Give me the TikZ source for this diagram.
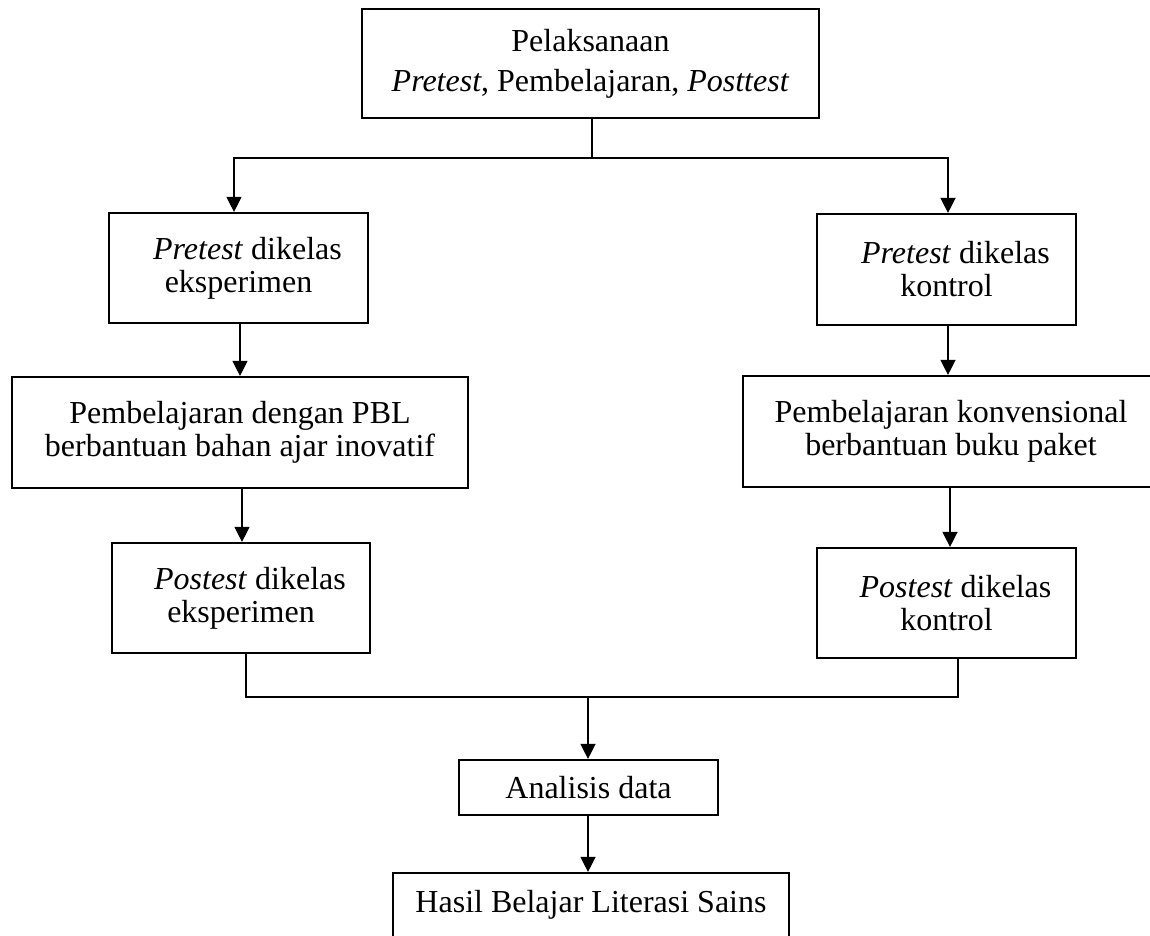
\documentclass[tikz,border=0pt]{standalone}
\usepackage{fontspec}
\setmainfont{Liberation Serif}
\usetikzlibrary{arrows.meta}
\begin{document}
\begin{tikzpicture}[x=1pt,y=-1pt,
  box/.style={draw, line width=2.2pt, inner sep=0pt, align=center,
    font=\fontsize{32}{33}\selectfont},
  arr/.style={line width=1.3pt, -{Triangle[width=15pt,length=15pt]}},
  conn/.style={line width=1.3pt}]
\useasboundingbox[fill=white] (0,0) rectangle (1150,935);
\node[box, minimum width=457pt, minimum height=109pt, font=\fontsize{32}{40}\selectfont] (top) at (590.5,63.5)
  {Pelaksanaan\\ \textit{Pretest}, Pembelajaran, \textit{Posttest}};
\node[box, minimum width=259pt, minimum height=110pt] (L1) at (238.5,268)
  {\hspace*{18pt}\textit{Pretest} dikelas\\ eksperimen};
\node[box, minimum width=259pt, minimum height=111pt] (R1) at (946.5,269.5)
  {\hspace*{18pt}\textit{Pretest} dikelas\\ kontrol};
\node[box, minimum width=456pt, minimum height=111pt] (L2) at (240,432.5)
  {Pembelajaran dengan PBL\\ berbantuan bahan ajar inovatif};
\node[box, minimum width=416pt, minimum height=111pt] (R2) at (951,431.5)
  {Pembelajaran konvensional\\ berbantuan buku paket};
\node[box, minimum width=258pt, minimum height=110pt] (L3) at (241,598)
  {\hspace*{18pt}\textit{Postest} dikelas\\ eksperimen};
\node[box, minimum width=259pt, minimum height=110pt] (R3) at (946.5,603)
  {\hspace*{18pt}\textit{Postest} dikelas\\ kontrol};
\node[box, minimum width=259pt, minimum height=55pt] (A) at (588.5,787.5)
  {Analisis data};
\node[box, minimum width=396pt, minimum height=64pt] (H) at (591,905)
  {Hasil Belajar Literasi Sains};
% connectors
\coordinate (s) at (592,158);
\coordinate (m) at (588,697);
\draw[conn] ([xshift=1.5pt]top.south) -- (s);
\draw[arr] (s) -| ([xshift=-4.5pt]L1.north);
\draw[arr] (s) -| ([xshift=1.5pt]R1.north);
\draw[arr] ([xshift=1.5pt]L1.south) -- (L2.north);
\draw[arr] ([xshift=2pt]L2.south) -- ([xshift=1pt]L3.north);
\draw[arr] ([xshift=1.5pt]R1.south) -- ([xshift=-3pt]R2.north);
\draw[arr] ([xshift=-1pt]R2.south) -- ([xshift=3.5pt]R3.north);
\draw[conn] ([xshift=5pt]L3.south) |- (m) -| ([xshift=11.5pt]R3.south);
\draw[arr] (m) -- ([xshift=-0.5pt]A.north);
\draw[arr] ([xshift=-0.5pt]A.south) -- ([xshift=-3pt]H.north);
\end{tikzpicture}
\end{document}
